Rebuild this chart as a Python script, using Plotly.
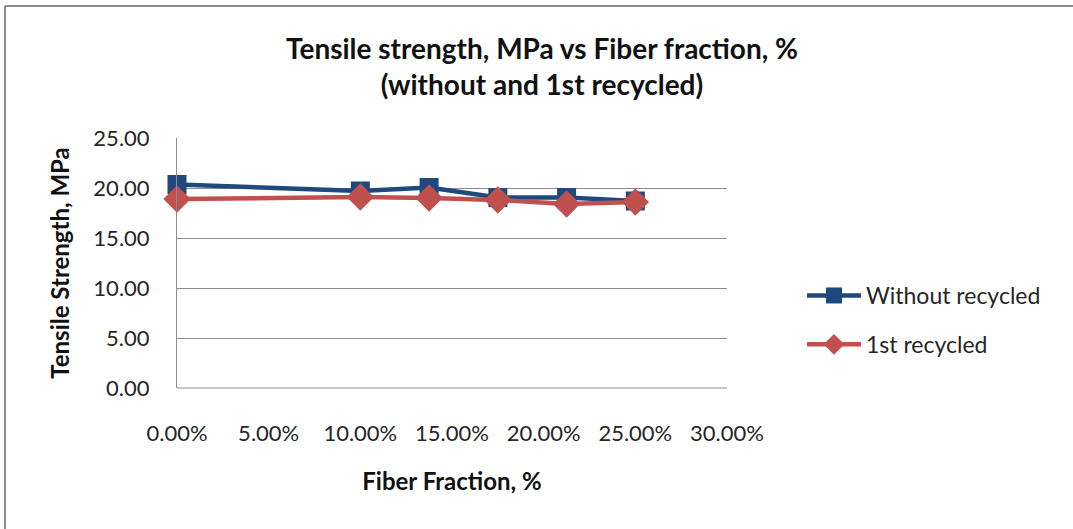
import plotly.graph_objects as go

fiber_fraction = [0.0, 0.10, 0.1375, 0.175, 0.2125, 0.25]
without_recycled = [20.35, 19.7, 20.05, 19.05, 19.05, 18.7]
first_recycled = [18.9, 19.1, 19.0, 18.8, 18.4, 18.6]
x_ticks = [0.0, 0.05, 0.10, 0.15, 0.20, 0.25, 0.30]
y_ticks = [0, 5, 10, 15, 20, 25]

FONT = "Lato"
TXT = "#262626"

fig = go.Figure()
fig.add_trace(go.Scatter(
    x=fiber_fraction, y=without_recycled, name="Without recycled",
    mode="lines+markers", legendgroup="a", cliponaxis=False,
    line=dict(color="#1F497D", width=4.5),
    marker=dict(symbol="square", size=19, color="#1F497D"),
))
fig.add_trace(go.Scatter(
    x=fiber_fraction, y=first_recycled, name="1st recycled",
    mode="lines+markers", legendgroup="b", cliponaxis=False,
    line=dict(color="#C0504D", width=4.5),
    marker=dict(symbol="diamond", size=21, color="#C0504D"),
))

fig.update_layout(
    width=1073, height=529,
    paper_bgcolor="white", plot_bgcolor="white",
    margin=dict(l=177, r=346, t=138, b=141),
    font=dict(family=FONT, color=TXT),
    legend=dict(
        x=(802 - 177) / 550, xanchor="left", y=(388 - 320) / 250, yanchor="middle",
        font=dict(family=FONT, size=23, color=TXT),
        tracegroupgap=16, itemwidth=54,
        bgcolor="rgba(0,0,0,0)",
    ),
    xaxis=dict(
        range=[0, 0.30], tickvals=x_ticks, tickformat=".2%",
        showgrid=False, showline=False, zeroline=False,
        ticks="", tickfont=dict(family=FONT, size=22, color=TXT),
        ticklabelstandoff=30,
        title=dict(text="<b>Fiber Fraction, %</b>", font=dict(family=FONT, size=24, color="#111111"), standoff=28),
    ),
    yaxis=dict(
        range=[0, 25], tickvals=y_ticks, tickformat=".2f",
        showgrid=True, gridcolor="#8C8C8C", gridwidth=1,
        showline=True, linecolor="#8C8C8C", linewidth=1, zeroline=False,
        ticks="", tickfont=dict(family=FONT, size=22, color=TXT),
        ticklabelstandoff=22,
        title=dict(text="<b>Tensile Strength, MPa</b>", font=dict(family=FONT, size=24, color="#111111"), standoff=16),
    ),
    annotations=[
        dict(text="<b>Tensile strength, MPa vs Fiber fraction, %<br>(without and 1st recycled)</b>",
             xref="paper", yref="paper", x=(542 - 177) / 550, y=(388 - 29) / 250,
             xanchor="center", yanchor="top", showarrow=False, align="center",
             font=dict(family=FONT, size=28, color="#111111")),
    ],
    shapes=[
        dict(type="line", xref="paper", yref="paper", x0=0, x1=1, y0=0, y1=0,
             line=dict(color="#8C8C8C", width=1), layer="below"),
        dict(type="line", xref="paper", yref="paper",
             x0=(5 - 177) / 550, x1=(1080 - 177) / 550,
             y0=(388 - 6) / 250, y1=(388 - 6) / 250,
             line=dict(color="#8C8C8C", width=2)),
        dict(type="line", xref="paper", yref="paper",
             x0=(5 - 177) / 550, x1=(5 - 177) / 550,
             y0=(388 - 6) / 250, y1=(388 - 540) / 250,
             line=dict(color="#8C8C8C", width=2)),
    ],
)

fig.write_html("out.html")
